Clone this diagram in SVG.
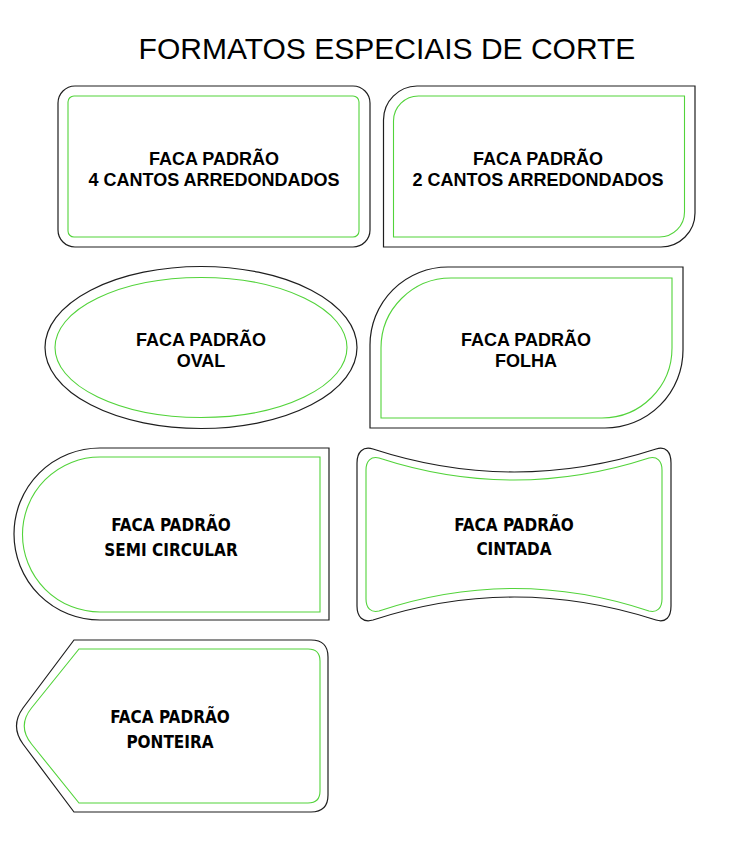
<svg xmlns="http://www.w3.org/2000/svg" width="752" height="854" viewBox="0 0 752 854">
<style>
.cut{fill:none;stroke:#1e1e1e;stroke-width:1.2}
.safe{fill:none;stroke:#52d33a;stroke-width:1.1}
.lblA{font-family:"Liberation Sans",Arial,sans-serif;font-weight:bold;font-size:18px;fill:#000;text-anchor:middle}
.lblB{font-family:"DejaVu Sans Condensed","DejaVu Sans",sans-serif;font-weight:bold;font-size:17px;fill:#000;text-anchor:middle}
.title{font-family:"Liberation Sans",Arial,sans-serif;font-size:30px;fill:#000;text-anchor:middle}
</style>
<rect width="752" height="854" fill="#fff"/>
<text class="title" x="387" y="59">FORMATOS ESPECIAIS DE CORTE</text>

<g id="n-4cantos">
<rect class="cut" x="58" y="86" width="312" height="161" rx="17"/>
<rect class="safe" x="68" y="96" width="291" height="141" rx="6"/>
<text class="lblA" x="214" y="165">FACA PADRÃO</text>
<text class="lblA" x="214" y="186">4 CANTOS ARREDONDADOS</text>
</g>

<g id="n-2cantos">
<path class="cut" d="M417,86 L695,86 L695,213 A34,34 0 0 1 661,247 L383.5,247 L383.5,120 A34,34 0 0 1 417,86 Z"/>
<path class="safe" d="M419,96 L684.5,96 L684.5,212 A25,25 0 0 1 659.5,237 L393.5,237 L393.5,121 A25,25 0 0 1 419,96 Z"/>
<text class="lblA" x="538" y="165">FACA PADRÃO</text>
<text class="lblA" x="538" y="186">2 CANTOS ARREDONDADOS</text>
</g>

<g id="n-oval">
<ellipse class="cut" cx="201" cy="347.5" rx="156" ry="81"/>
<ellipse class="safe" cx="201" cy="347.5" rx="146" ry="70"/>
<text class="lblA" x="201" y="346">FACA PADRÃO</text>
<text class="lblA" x="201" y="367">OVAL</text>
</g>

<g id="n-folha">
<path class="cut" d="M448,267 L683,267 L683,350 A78,78 0 0 1 605,428 L370,428 L370,345 A78,78 0 0 1 448,267 Z"/>
<path class="safe" d="M451,278 L672,278 L672,348 A70,70 0 0 1 602,418 L381,418 L381,348 A70,70 0 0 1 451,278 Z"/>
<text class="lblA" x="526" y="346">FACA PADRÃO</text>
<text class="lblA" x="526" y="367">FOLHA</text>
</g>

<g id="n-semicircular">
<path class="cut" d="M100,448 L329,448 L329,620 L100,620 A86,86 0 0 1 100,448 Z"/>
<path class="safe" d="M100,457 L320,457 L320,612 L100,612 A77.5,77.5 0 0 1 100,457 Z"/>
<text class="lblB" x="171" y="531">FACA PADRÃO</text>
<text class="lblB" x="171" y="556">SEMI CIRCULAR</text>
</g>

<g id="n-cintada">
<path class="cut" d="M357,463 C357,452 363,446 373,449 Q514,495 656,449 C666,446 671,452 671,463 L671,606 C671,617 666,623 656,620 Q514,574 373,620 C363,623 357,617 357,606 Z"/>
<path class="safe" d="M366,470 C366,461 371,456 379,458 Q514,502 649,458 C657,456 662,461 662,470 L662,599 C662,608 657,613 649,611 Q514,566 379,611 C371,613 366,608 366,599 Z"/>
<text class="lblB" x="514" y="531">FACA PADRÃO</text>
<text class="lblB" x="514" y="555">CINTADA</text>
</g>

<g id="n-ponteira">
<path class="cut" d="M74,640 L311,640 Q328,640 328,657 L328,795 Q328,812 311,812 L74,812 L23,744 Q10,726 23,708 Z"/>
<path class="safe" d="M79,649 L308,649 Q320,649 320,661 L320,791 Q320,803 308,803 L79,803 L31.5,744 Q17,726 31.5,708 Z"/>
<text class="lblB" x="170" y="723">FACA PADRÃO</text>
<text class="lblB" x="170" y="748">PONTEIRA</text>
</g>
</svg>
